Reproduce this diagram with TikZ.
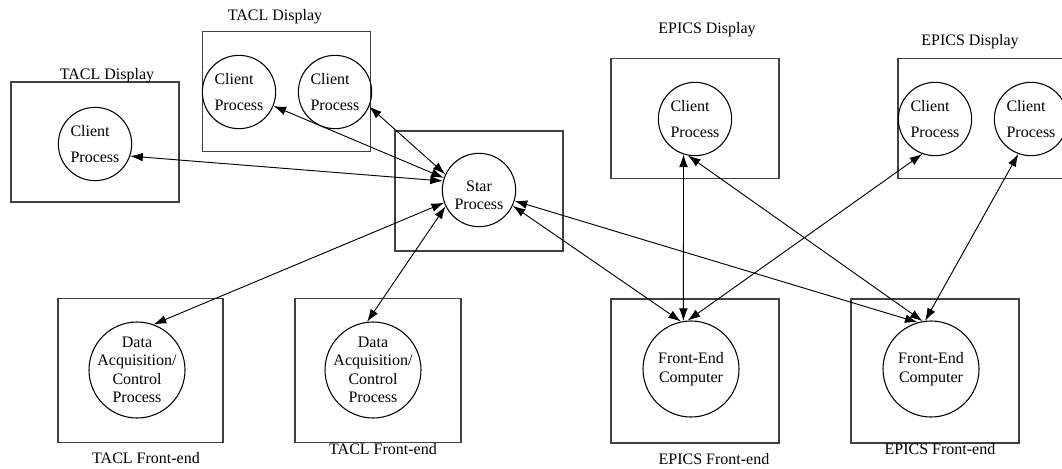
\documentclass[tikz,border=0pt]{standalone}
\usepackage{fontspec}
\setmainfont{Liberation Serif}
\usetikzlibrary{arrows.meta}

\begin{document}
\begin{tikzpicture}[
    x=0.75pt, y=-0.75pt,
    font=\fontsize{12}{13.8}\selectfont,
    >={Latex[length=9.5pt,width=6.5pt]},
    dispbox/.style={draw=black!75, line width=1.4pt, inner sep=0pt,
                    minimum width=126pt, minimum height=90pt},
    febox/.style={dispbox, minimum height=108pt},
    proc/.style={draw, circle, line width=0.8pt, inner sep=0pt,
                 minimum size=55pt},
    fec/.style={proc, minimum size=72pt},
    txt/.style={align=center, inner sep=0pt},
    cli/.style={align=left, inner sep=0pt},
    link/.style={<->, line width=0.7pt},
  ]
  \clip (0,0) rectangle (1062,468);

  %% ---- TACL displays ------------------------------------------------
  \node[dispbox] (lbox) at (95,142) {};
  \node[txt] (lboxl) at (107,76) {TACL Display};
  \node[proc, label={[cli]center:{Client\\[5.5pt]Process}}] (lc) at (95,144) {};

  \node[dispbox] (tbox) at (286.5,91.5) {};
  \node[txt] (tboxl) at (275,17) {TACL Display};
  \node[proc, label={[cli]center:{Client\\[5.5pt]Process}}] (tc1) at (239,92) {};
  \node[proc, label={[cli]center:{Client\\[5.5pt]Process}}] (tc2) at (335,92) {};

  %% ---- star process ---------------------------------------------------
  \node[dispbox] (sbox) at (479,191) {};
  \node[proc, label={[txt,yshift=-4pt]center:{Star\\Process}}] (star) at (479,190) {};

  %% ---- EPICS displays -------------------------------------------------
  \node[dispbox] (ebox) at (695,118.5) {};
  \node[txt] (eboxl) at (707,30) {EPICS Display};
  \node[proc, label={[cli]center:{Client\\[5.5pt]Process}}] (ec) at (695,119) {};

  \node[dispbox] (rbox) at (982,118.5) {};
  \node[txt] (rboxl) at (970,42) {EPICS Display};
  \node[proc, label={[cli]center:{Client\\[5.5pt]Process}}] (rc1) at (935,119) {};
  \node[proc, label={[cli]center:{Client\\[5.5pt]Process}}] (rc2) at (1031,119) {};

  %% ---- TACL front-ends ------------------------------------------------
  \node[febox, minimum width=124pt] (dbox1) at (140.5,370.5) {};
  \node[txt] (dbox1l) at (146,458) {TACL Front-end};
  \node[fec, label={[txt]center:{Data\\Acquisition/\\Control\\Process}}] (daq1) at (137,370) {};

  \node[febox, minimum width=124.5pt] (dbox2) at (378,370.5) {};
  \node[txt] (dbox2l) at (383,449) {TACL Front-end};
  \node[fec, label={[txt]center:{Data\\Acquisition/\\Control\\Process}}] (daq2) at (373,370) {};

  %% ---- EPICS front-ends -----------------------------------------------
  \node[febox] (fbox1) at (695,371) {};
  \node[txt] (fbox1l) at (714,459) {EPICS Front-end};
  \node[fec, label={[txt]center:{Front-End\\Computer}}] (fe1) at (691,369) {};

  \node[febox] (fbox2) at (935,371) {};
  \node[txt] (fbox2l) at (940,449) {EPICS Front-end};
  \node[fec, label={[txt]center:{Front-End\\Computer}}] (fe2) at (931,369) {};

  %% ---- connections ----------------------------------------------------
  \draw[link] (lc.-19)   -- (star.166);
  \draw[link] (tc1.-22)  -- (star.161);
  \draw[link] (tc2.-23)  -- (star.155);
  \draw[link] (star.200) -- (daq1.70);
  \draw[link] (star.206) -- (daq2.97);
  \draw[link] (star.-25) -- (fe1.102);
  \draw[link] (star.-17) -- (fe2.106);
  \draw[link] (ec.-108)  -- (fe1.99);
  \draw[link] (ec.-101)  -- (fe2.100);
  \draw[link] (rc1.-110) -- (fe1.94);
  \draw[link] (rc2.-110) -- (fe2.97);

\end{tikzpicture}
\end{document}
